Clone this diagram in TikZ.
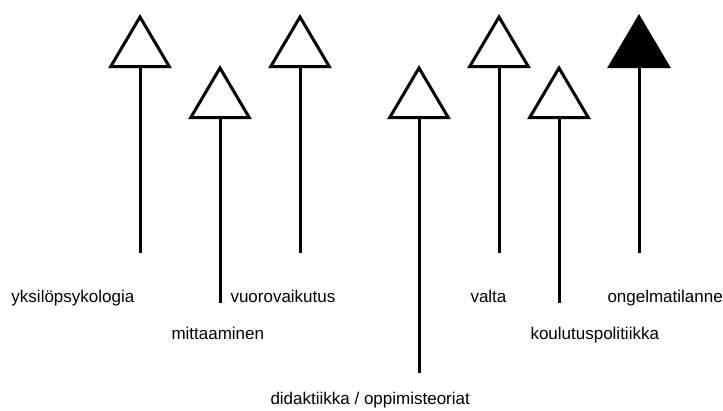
\documentclass[tikz,border=0pt]{standalone}
\usepackage{fontspec}
\setmainfont{Liberation Sans}
\usetikzlibrary{arrows.meta}
\begin{document}
\begin{tikzpicture}[x=1pt,y=-1pt,line width=3pt]
\tikzset{vaikutin/.style={-{Triangle[open,fill=white,length=54pt,width=63pt,line width=3pt]}},
vahva/.style={-{Triangle[length=54pt,width=63pt]}},
nimi/.style={anchor=base west,inner sep=0pt,font=\fontsize{17}{20}\selectfont},
}
\useasboundingbox (0,0) rectangle (723,410);

\coordinate (a1) at (140,253); \coordinate (k1) at (140,14);
\coordinate (a2) at (220,303); \coordinate (k2) at (220,65);
\coordinate (a3) at (300,253); \coordinate (k3) at (300,14);
\coordinate (a4) at (419,373); \coordinate (k4) at (419,65);
\coordinate (a5) at (499,253); \coordinate (k5) at (499,14);
\coordinate (a6) at (559,303); \coordinate (k6) at (559,65);
\coordinate (a7) at (639,253); \coordinate (k7) at (639,14);

\draw[vaikutin] (a1) -- (k1);
\draw[vaikutin] (a2) -- (k2);
\draw[vaikutin] (a3) -- (k3);
\draw[vaikutin] (a4) -- (k4);
\draw[vaikutin] (a5) -- (k5);
\draw[vaikutin] (a6) -- (k6);
\draw[vahva] (a7) -- (k7);

\node[nimi] (yksilo) at (10,302) {yksilöpsykologia};
\node[nimi] (mittaus) at (170,339) {mittaaminen};
\node[nimi] (vuoro) at (229,302) {vuorovaikutus};
\node[nimi] (didaktiikka) at (269,404) {didaktiikka / oppimisteoriat};
\node[nimi] (valta) at (469,302) {valta};
\node[nimi] (politiikka) at (529,339) {koulutuspolitiikka};
\node[nimi] (ongelma) at (606,302) {ongelmatilanne};
\end{tikzpicture}
\end{document}
